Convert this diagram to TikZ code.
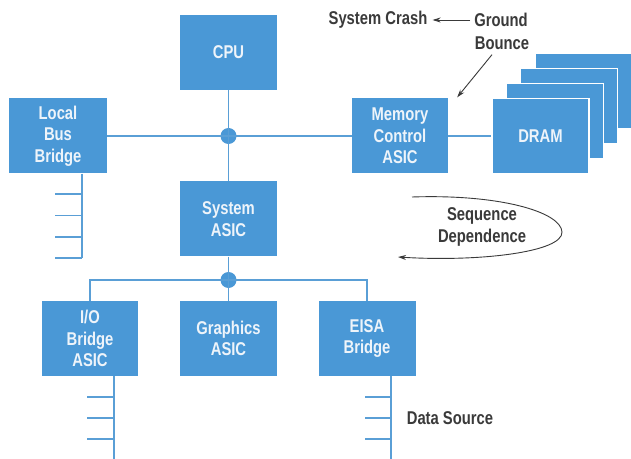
\documentclass[tikz,border=0pt]{standalone}
\usepackage{fontspec}
\setmainfont{Liberation Sans}
\newfontfamily\condfont[FakeStretch=0.8]{Liberation Sans}
\usetikzlibrary{arrows.meta,calc}
\definecolor{boxblue}{HTML}{4A98D6}
\definecolor{lineblue}{HTML}{5A9FD6}
\definecolor{txtgray}{HTML}{3A3A3A}
\definecolor{boxtxt}{HTML}{EEF4FA}
\tikzset{
  blk/.style={fill=boxblue, draw=none, minimum width=97bp, minimum height=75bp, inner sep=0pt,
    align=center, text=boxtxt, font=\condfont\bfseries\fontsize{18.5bp}{21.5bp}\selectfont},
  drambox/.style={blk, draw=white, line width=1.5bp},
  bus/.style={draw=lineblue, line width=1.3bp},
  junction/.style={circle, fill=boxblue, minimum size=16bp, inner sep=0pt},
  lbl/.style={text=txtgray, inner sep=1bp, font=\condfont\bfseries\fontsize{18.5bp}{22bp}\selectfont, align=center},
  note/.style={draw=txtgray, line width=0.9bp, -{Stealth[length=8bp,width=5bp]}}
}
\begin{document}
\begin{tikzpicture}[x=1bp,y=-1bp]
\useasboundingbox[fill=white] (0,0) rectangle (631,459);
% DRAM stack (back to front)
\node[drambox] (d4) at (583.5,91) {};
\node[drambox] (d3) at (569,106) {};
\node[drambox] (d2) at (555,121) {};
\node[drambox] (dram) at (540.5,136) {DRAM};
% blocks
\node[blk] (cpu) at (228.5,52.5) {CPU};
\node[blk] (lbb) at (58,136) {Local\\Bus\\Bridge};
\node[blk, minimum width=96bp] (mca) at (400,136) {Memory\\Control\\ASIC};
\node[blk] (sys) at (228.5,219) {System\\ASIC};
\node[blk, minimum width=96bp] (io) at (90,338.5) {I/O\\Bridge\\ASIC};
\node[blk] (gfx) at (228.5,338.5) {Graphics\\ASIC};
\node[blk] (eisa) at (367,338.5) {EISA\\Bridge};
% junctions
\node[junction] (j1) at (228.5,136) {};
\node[junction] (j2) at (228.5,280) {};
% buses
\draw[bus] (cpu.south) -- (j1.center) -- (sys.north);
\draw[bus] (lbb.east) -- (mca.west);
\draw[bus] (mca.east) -- (dram.west);
\draw[bus] (sys.south) -- (j2.center) -- (gfx.north);
\draw[bus] (io.north) |- (j2.center) -| (eisa.north);
% stubs
\coordinate (lbbend) at (82,258);
\draw[bus] (lbb.south -| lbbend) -- (lbbend);
\foreach \yy in {194,215.5,237,258} \draw[bus] (55,\yy) -- (82,\yy);
\coordinate (ioend) at (114,459);
\draw[bus] (io.south -| ioend) -- (ioend);
\foreach \yy in {397,418,439} \draw[bus] (87,\yy) -- (114,\yy);
\coordinate (eisaend) at (391,459);
\draw[bus] (eisa.south -| eisaend) -- (eisaend);
\foreach \yy in {397,418,439} \draw[bus] (365,\yy) -- (391,\yy);
% labels
\node[lbl] (crash) at (378,20) {System Crash};
\node[lbl] (ground) at (501,20) {Ground};
\node[lbl] (bounce) at (502,43) {Bounce};
\node[lbl] (seq) at (482,226.5) {Sequence\\Dependence};
\node[lbl] (dsrc) at (450,418) {Data Source};
% arrows
\draw[note] ([xshift=-3bp]ground.west) -- ([xshift=4bp]crash.east);
\draw[note] ($(bounce.south)+(-10,4)$) -- ($(mca.north east)+(9,-1)$);
\coordinate (sqa) at (412,197);
\coordinate (sqb) at (562,232);
\coordinate (sqc) at (398,257);
\draw[note] (sqa) .. controls (500,194) and (561,212) .. (sqb) .. controls (563,252) and (480,262) .. (sqc);
\end{tikzpicture}
\end{document}
